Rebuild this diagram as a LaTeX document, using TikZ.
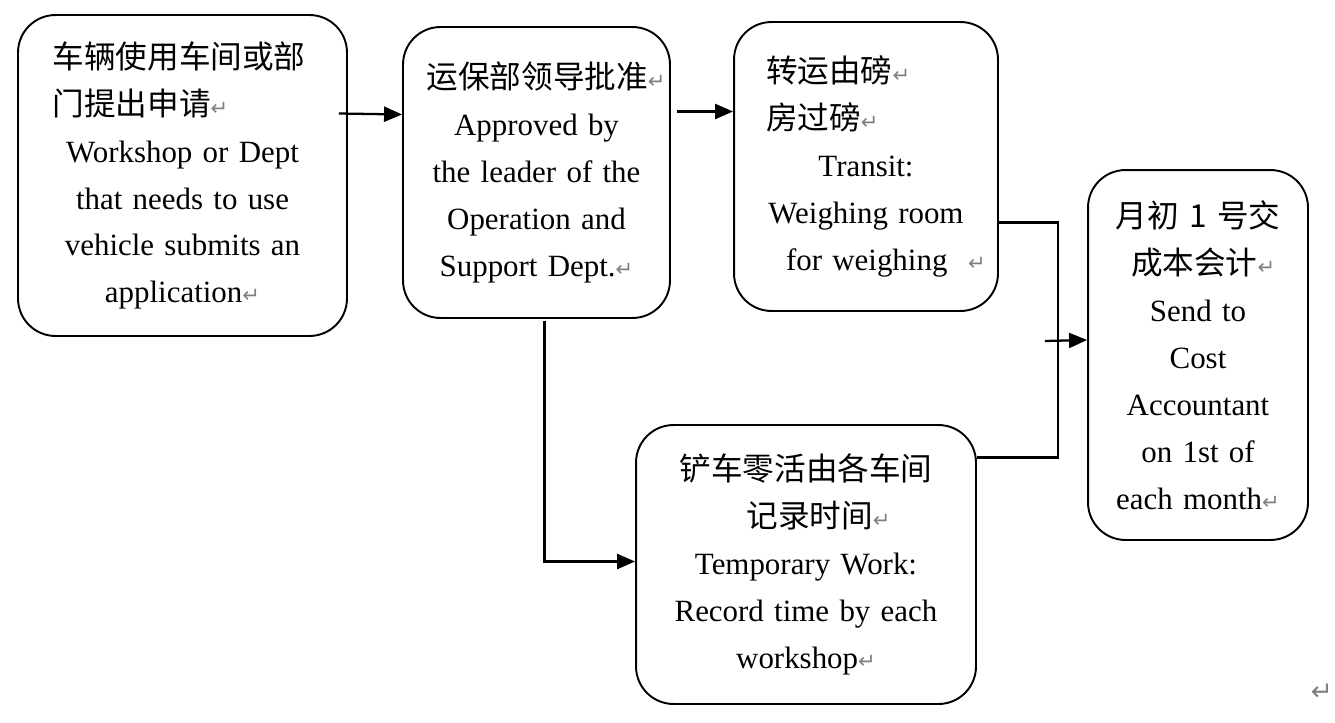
\documentclass[tikz,border=0pt]{standalone}
\usepackage{fontspec}
\setmainfont{Liberation Serif}
\newfontfamily\cjk{Noto Sans CJK SC}
\newfontfamily\markfont{DejaVu Sans}
\usepackage{xcolor}
\usetikzlibrary{arrows.meta, calc}

\newcommand{\pmark}{{\markfont\fontsize{12}{12}\selectfont\color{gray}↵}}
\newcommand{\zh}[1]{{\cjk\fontsize{18}{26.7}\selectfont #1}}
\newcommand{\flushline}[1]{\makebox[\hsize][l]{#1}}

\begin{document}
\begin{tikzpicture}[
            x=0.02cm, y=-0.02cm,
            box/.style={rectangle, draw, line width=1.1pt, rounded corners=0.75cm, inner sep=0pt, align=center, font=\fontsize{17.6}{26.7}\selectfont},
            arrow/.style={-{Triangle[length=0.36cm, width=0.3cm]}, line width=1.3pt},
            link/.style={line width=1.3pt}
        ]
        \useasboundingbox (0,0) rectangle (1335,723);

        % Application
        \node[box, minimum width=6.58cm, minimum height=6.42cm, text width=5.2cm] (apply) at (182.5,175.5)
            {\flushline{\zh{车辆使用车间或部}}\\ \flushline{\zh{门提出申请}\pmark}\\ Workshop or Dept\\ that needs to use\\ vehicle submits an\\ application\pmark};

        % Approval
        \node[box, minimum width=5.34cm, minimum height=5.82cm, text width=4.8cm] (approve) at (536.5,172.5)
            {\hspace*{0.2cm}\zh{运保部领导批准}\pmark\\ Approved by\\ the leader of the\\ Operation and\\ Support Dept.\pmark};

        % Transit
        \node[box, minimum width=5.28cm, minimum height=5.78cm, text width=4cm] (transit) at (866,166.5)
            {\flushline{\zh{转运由磅}\pmark}\\ \flushline{\zh{房过磅}\pmark}\\ Transit:\\ Weighing room\\ \flushline{\hspace*{0.4cm}for weighing \ \pmark}};

        % Cost accountant
        \node[box, minimum width=4.4cm, minimum height=7.4cm, text width=4cm] (cost) at (1198,355)
            {\zh{月初 1 号交}\\ \zh{\ 成本会计}\pmark\\ Send to\\ Cost\\ Accountant\\ on 1st of\\ each month\pmark};

        % Temporary work
        \node[box, minimum width=6.8cm, minimum height=5.58cm, text width=6.2cm] (temp) at (806,564.5)
            {\zh{铲车零活由各车间}\\ \hspace*{0.5cm}\zh{记录时间}\pmark\\ Temporary Work:\\ Record time by each\\ workshop\pmark};

        \node[inner sep=0pt] (endmark) at (1322,692) {{\markfont\fontsize{15}{15}\selectfont\color{gray}↵}};

        % Connections
        \draw[arrow] ($(apply.east)+(-9,-62)$) -- ($(approve.west)+(0,-58)$);
        \draw[arrow] ($(approve.east)+(6,-61)$) -- ($(transit.west)+(0,-55)$);
        \draw[arrow] ($(approve.south)+(8,2)$) |- ($(temp.west)+(0,-3)$);
        \draw[link] ($(transit.east)+(0,56)$) -| ($(temp.east)+(81,-107)$) -- ($(temp.east)+(0,-107)$);
        \coordinate (join) at ($(transit.east)+(46,174.5)$);
        \draw[arrow] (join) -- ($(cost.west)+(0,-15)$);

    \end{tikzpicture}
\end{document}
